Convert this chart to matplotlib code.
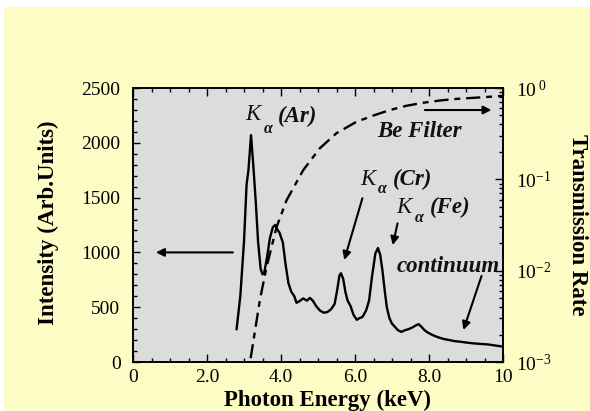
import matplotlib
matplotlib.use("Agg")
import matplotlib.pyplot as plt
from matplotlib.patches import Rectangle
from matplotlib.ticker import MultipleLocator, FixedLocator, FixedFormatter, LogLocator, NullFormatter

# ---- data ----
energy = [2.80, 2.90, 3.00, 3.07, 3.12, 3.19, 3.25, 3.32, 3.38, 3.45, 3.50, 3.55,
          3.62, 3.70, 3.78, 3.84, 3.90, 3.96, 4.05, 4.12, 4.20, 4.28, 4.36, 4.42,
          4.50, 4.60, 4.70, 4.78, 4.86, 4.95, 5.05, 5.15, 5.25, 5.35, 5.45, 5.52,
          5.58, 5.62, 5.68, 5.74, 5.80, 5.88, 5.96, 6.05, 6.12, 6.20, 6.30, 6.38,
          6.46, 6.55, 6.62, 6.68, 6.74, 6.80, 6.86, 6.93, 7.00, 7.08, 7.16, 7.25,
          7.35, 7.45, 7.55, 7.65, 7.72, 7.80, 7.88, 7.96, 8.10, 8.25, 8.40, 8.55,
          8.70, 8.85, 9.00, 9.20, 9.40, 9.60, 9.80, 10.0]
intensity = [300, 600, 1100, 1620, 1750, 2070, 1800, 1450, 1100, 850, 800, 820,
             950, 1130, 1230, 1250, 1210, 1180, 1090, 900, 720, 640, 600, 540,
             555, 580, 560, 585, 560, 510, 470, 450, 455, 480, 530, 660,
             790, 810, 760, 640, 560, 510, 430, 385, 400, 410, 470, 560,
             780, 990, 1040, 980, 840, 660, 500, 400, 350, 320, 290, 275,
             290, 300, 315, 335, 345, 320, 290, 270, 245, 225, 210, 200,
             190, 185, 178, 170, 165, 160, 150, 140]

filter_energy = [3.18, 3.43, 3.61, 3.88, 4.15, 4.60, 5.05, 5.50, 6.04, 6.50,
                 6.95, 7.40, 7.85, 8.30, 8.75, 9.40, 10.0]
transmission = [1.1e-3, 4.8e-3, 1.1e-2, 3.0e-2, 5.9e-2, 0.126, 0.219, 0.32, 0.427, 0.50,
                0.575, 0.64, 0.69, 0.73, 0.76, 0.79, 0.82]

x_ticks = [0, 2, 4, 6, 8, 10]
x_tick_labels = ["0", "2.0", "4.0", "6.0", "8.0", "10"]
right_ticks = [1e-3, 1e-2, 1e-1, 1e0]
right_tick_labels = [r"$10^{-3}$", r"$10^{-2}$", r"$10^{-1}$", r"$10^{\ 0}$"]

# ---- style ----
plt.rcParams["font.family"] = ["Liberation Serif", "DejaVu Serif"]
plt.rcParams["mathtext.fontset"] = "custom"
plt.rcParams["mathtext.rm"] = "Liberation Serif"
plt.rcParams["mathtext.it"] = "Liberation Serif:italic"
plt.rcParams["mathtext.bf"] = "Liberation Serif:bold"

W, H = 590, 411
fig = plt.figure(figsize=(W / 100, H / 100), dpi=100)
fig.patch.set_facecolor("white")
fig.patches.append(Rectangle((4 / W, 0), 1, 1 - 7 / H, transform=fig.transFigure,
                             facecolor="#FCFCC4", edgecolor="none", zorder=-10))

L, R, T, B = 133, 503, 88, 362
ax = fig.add_axes([L / W, 1 - B / H, (R - L) / W, (B - T) / H])
ax.set_facecolor("#DCDCDC")
ax2 = ax.twinx()

ax.plot(energy, intensity, color="black", lw=1.7, zorder=3)
ax2.plot(filter_energy, transmission, color="black", lw=1.7, dashes=(6, 2.5, 2.5, 2.5))

ax.set_xlim(0, 10)
ax.set_ylim(0, 2500)
ax2.set_yscale("log")
ax2.set_ylim(1e-3, 1)

fs = 14
ax.xaxis.set_major_locator(FixedLocator(x_ticks))
ax.xaxis.set_major_formatter(FixedFormatter(x_tick_labels))
ax.xaxis.set_minor_locator(MultipleLocator(0.5))
ax.yaxis.set_major_locator(MultipleLocator(500))
ax.yaxis.set_minor_locator(MultipleLocator(100))
ax.tick_params(axis="both", which="both", direction="in", top=True, right=False,
               labelsize=fs, width=1)
ax.tick_params(axis="x", which="major", length=6, pad=5)
ax.tick_params(axis="x", which="minor", length=3)
ax.tick_params(axis="y", which="major", length=5, pad=9)
ax.tick_params(axis="y", which="minor", length=3)

ax2.yaxis.set_major_locator(FixedLocator(right_ticks))
ax2.yaxis.set_major_formatter(FixedFormatter(right_tick_labels))
ax2.yaxis.set_minor_locator(LogLocator(base=10, subs=range(2, 10)))
ax2.yaxis.set_minor_formatter(NullFormatter())
ax2.tick_params(axis="y", which="both", direction="in", labelsize=fs, width=1)
ax2.tick_params(axis="y", which="major", length=6, pad=9)
ax2.tick_params(axis="y", which="minor", length=3)

for a in (ax, ax2):
    for s in a.spines.values():
        s.set_linewidth(1.2)

lfs = 16.5
ax.set_xlabel("Photon Energy (keV)", fontsize=lfs, fontweight="bold")
ax.xaxis.set_label_coords(0.527, -0.1)
ax.set_ylabel("Intensity (Arb.Units)", fontsize=lfs, fontweight="bold")
ax.yaxis.set_label_coords(-0.2, 0.51)
ax2.set_ylabel("Transmission Rate", fontsize=lfs, fontweight="bold", rotation=270,
               va="center")
ax2.yaxis.set_label_coords(1.2, 0.5)

# ---- annotations ----
afs = 16.5
tkw = dict(ha="left", va="baseline", style="italic", fontweight="bold", color="#111111")


def k_alpha(xk, yk, xa, ya, xp, yp, label):
    ax.text(xk, yk, "K", fontsize=afs, style="italic", color="#111111", ha="left", va="baseline")
    ax.text(xa, ya, "α", fontsize=11.5, style="italic", fontweight="bold", color="#111111",
            ha="left", va="baseline")
    ax.text(xp, yp, label, fontsize=afs, **tkw)


k_alpha(3.03, 2208, 3.53, 2089, 3.92, 2190, "(Ar)")
k_alpha(6.14, 1615, 6.62, 1542, 7.03, 1615, "(Cr)")
k_alpha(7.12, 1359, 7.62, 1280, 8.03, 1359, "(Fe)")
ax.text(6.59, 2053, "Be Filter", fontsize=afs, **tkw)
ax.text(7.12, 821, "continuum", fontsize=afs, **tkw)

akw = dict(arrowstyle="-|>", lw=1.5, color="black", mutation_scale=12,
           shrinkA=0, shrinkB=0)
ax.annotate("", xy=(0.62, 1000), xytext=(2.7, 1000), arrowprops=akw)
ax.annotate("", xy=(9.69, 2299), xytext=(7.89, 2299), arrowprops=akw)
ax.annotate("", xy=(5.71, 931), xytext=(6.2, 1494), arrowprops=akw)
ax.annotate("", xy=(7.02, 1067), xytext=(7.15, 1265), arrowprops=akw)
ax.annotate("", xy=(8.93, 292), xytext=(9.42, 785), arrowprops=akw)

fig.savefig("out.png", dpi=100, facecolor=fig.get_facecolor())
